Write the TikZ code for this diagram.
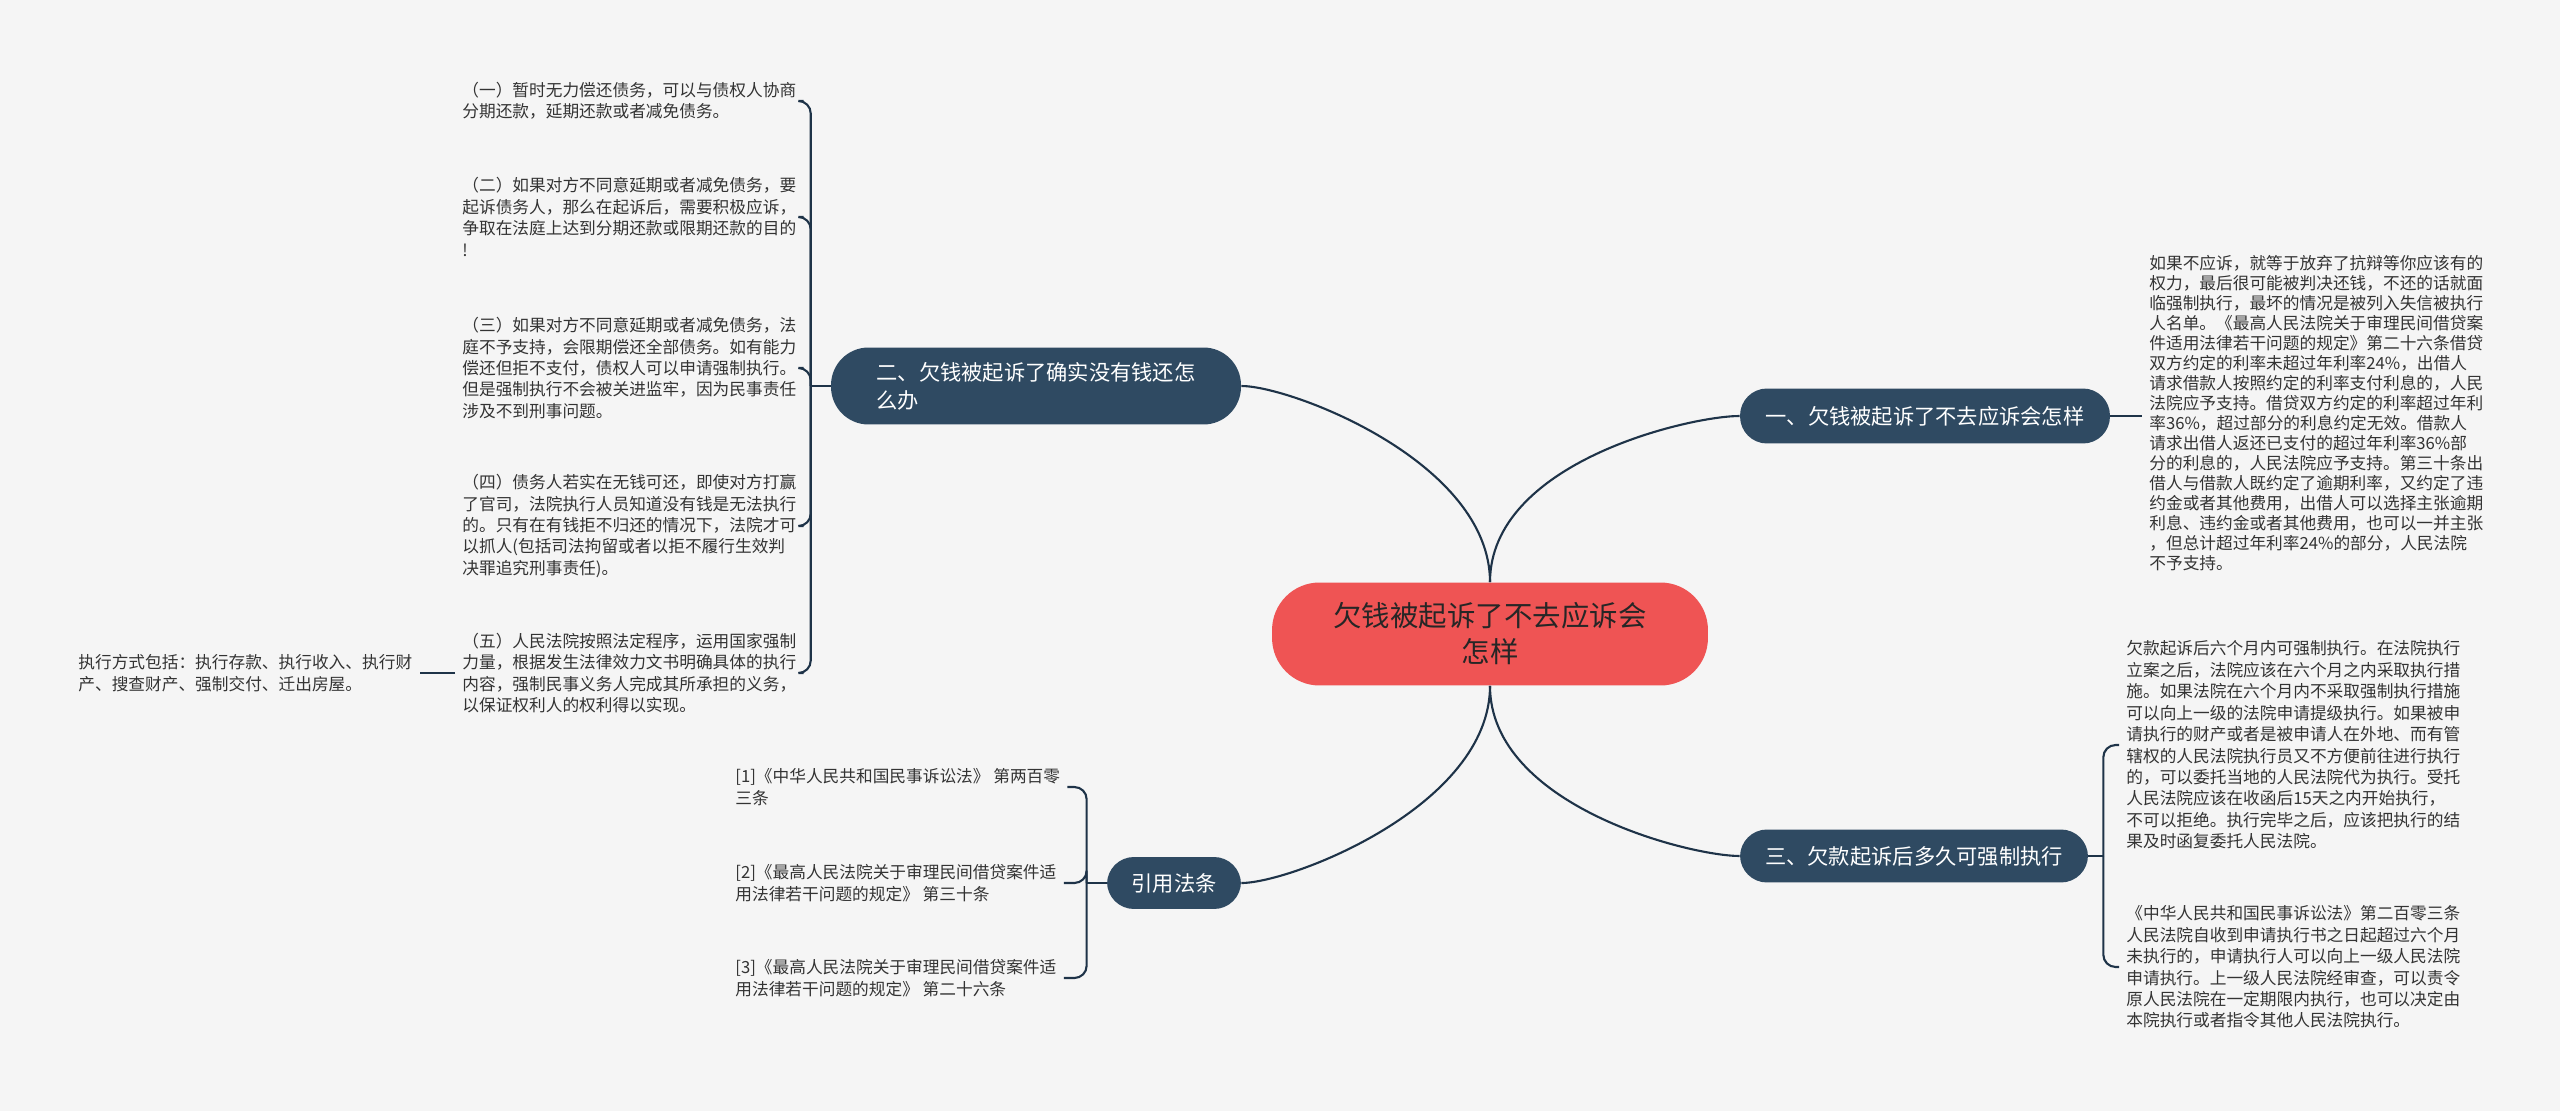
\documentclass[tikz,border=0pt]{standalone}
\usepackage{fontspec}
\newfontfamily\cjk{Noto Sans CJK SC}
\usetikzlibrary{positioning,calc}

\definecolor{bgcol}{HTML}{F5F5F5}
\definecolor{navy}{HTML}{2F4A62}
\definecolor{linecol}{HTML}{1E3348}
\definecolor{rootred}{HTML}{EF5454}
\definecolor{leaftext}{HTML}{333333}

\begin{document}
\begin{tikzpicture}[
    x=0.02cm, y=-0.02cm,
    root/.style={fill=rootred, rounded corners=0.95cm, minimum width=8.72cm, minimum height=2.06cm, align=center, text=black!85, font={\cjk\fontsize{16.2}{20.5}\selectfont}},
    topic/.style={fill=navy, rounded corners=0.54cm, align=left, text=white, font={\cjk\fontsize{12.1}{15.8}\selectfont}},
    leaf/.style={anchor=west, align=left, inner sep=4pt, text=leaftext, font={\cjk\fontsize{9.5}{12.2}\selectfont}},
    link/.style={draw=linecol, line width=1.2pt},
    bracket/.style={link, rounded corners=7pt}
]

    % 0. Canvas
    \useasboundingbox (0,0) rectangle (2560,1111);
    \fill[bgcol] (0,0) rectangle (2560,1111);

    % 1. Root (centre)
    \node[root] (root) at (1490, 634) {欠钱被起诉了不去应诉会\\怎样};

    % 2. Topics
    \node[topic, rounded corners=0.75cm, minimum width=8.2cm, minimum height=1.54cm] (owe) at (1036, 386) {二、欠钱被起诉了确实没有钱还怎\\么办};
    \node[topic, minimum width=7.4cm, minimum height=1.1cm] (skip) at (1925, 416) {一、欠钱被起诉了不去应诉会怎样};
    \node[topic, minimum width=6.96cm, minimum height=1.06cm] (force) at (1914, 856) {三、欠款起诉后多久可强制执行};
    \node[topic, minimum width=2.68cm, minimum height=1.04cm] (law) at (1174, 883) {引用法条};

    % 3. Leaves of "二" (left)
    \node[leaf] (owe1) at (455, 101) {（一）暂时无力偿还债务，可以与债权人协商\\分期还款，延期还款或者减免债务。};
    \node[leaf] (owe2) at (455, 217) {（二）如果对方不同意延期或者减免债务，要\\起诉债务人，那么在起诉后，需要积极应诉，\\争取在法庭上达到分期还款或限期还款的目的\\!};
    \node[leaf] (owe3) at (455, 368) {（三）如果对方不同意延期或者减免债务，法\\庭不予支持，会限期偿还全部债务。如有能力\\偿还但拒不支付，债权人可以申请强制执行。\\但是强制执行不会被关进监牢，因为民事责任\\涉及不到刑事问题。};
    \node[leaf] (owe4) at (455, 526) {（四）债务人若实在无钱可还，即使对方打赢\\了官司，法院执行人员知道没有钱是无法执行\\的。只有在有钱拒不归还的情况下，法院才可\\以抓人(包括司法拘留或者以拒不履行生效判\\决罪追究刑事责任)。};
    \node[leaf] (owe5) at (455, 673) {（五）人民法院按照法定程序，运用国家强制\\力量，根据发生法律效力文书明确具体的执行\\内容，强制民事义务人完成其所承担的义务，\\以保证权利人的权利得以实现。};
    \node[leaf] (owe5a) at (71, 673) {执行方式包括：执行存款、执行收入、执行财\\产、搜查财产、强制交付、迁出房屋。};

    % 4. Leaves of "引用法条"
    \node[leaf] (law1) at (728, 787) {[1]《中华人民共和国民事诉讼法》 第两百零\\三条};
    \node[leaf] (law2) at (728, 883) {[2]《最高人民法院关于审理民间借贷案件适\\用法律若干问题的规定》 第三十条};
    \node[leaf] (law3) at (728, 978) {[3]《最高人民法院关于审理民间借贷案件适\\用法律若干问题的规定》 第二十六条};

    % 5. Leaves on the right
    \node[leaf, font={\cjk\fontsize{9.5}{11.4}\selectfont}] (skip1) at (2142, 413) {如果不应诉，就等于放弃了抗辩等你应该有的\\权力，最后很可能被判决还钱，不还的话就面\\临强制执行，最坏的情况是被列入失信被执行\\人名单。《最高人民法院关于审理民间借贷案\\件适用法律若干问题的规定》第二十六条借贷\\双方约定的利率未超过年利率24\%，出借人\\请求借款人按照约定的利率支付利息的，人民\\法院应予支持。借贷双方约定的利率超过年利\\率36\%，超过部分的利息约定无效。借款人\\请求出借人返还已支付的超过年利率36\%部\\分的利息的，人民法院应予支持。第三十条出\\借人与借款人既约定了逾期利率，又约定了违\\约金或者其他费用，出借人可以选择主张逾期\\利息、违约金或者其他费用，也可以一并主张\\，但总计超过年利率24\%的部分，人民法院\\不予支持。};
    \node[leaf] (force1) at (2119, 745) {欠款起诉后六个月内可强制执行。在法院执行\\立案之后，法院应该在六个月之内采取执行措\\施。如果法院在六个月内不采取强制执行措施\\可以向上一级的法院申请提级执行。如果被申\\请执行的财产或者是被申请人在外地、而有管\\辖权的人民法院执行员又不方便前往进行执行\\的，可以委托当地的人民法院代为执行。受托\\人民法院应该在收函后15天之内开始执行，\\不可以拒绝。执行完毕之后，应该把执行的结\\果及时函复委托人民法院。};
    \node[leaf] (force2) at (2119, 967) {《中华人民共和国民事诉讼法》第二百零三条\\人民法院自收到申请执行书之日起超过六个月\\未执行的，申请执行人可以向上一级人民法院\\申请执行。上一级人民法院经审查，可以责令\\原人民法院在一定期限内执行，也可以决定由\\本院执行或者指令其他人民法院执行。};

    % 6. Root to topics
    \draw[link] (root.north) .. controls +(0,-120) and +(50,0) .. (owe.east);
    \draw[link] (root.north) .. controls +(0,-120) and +(-50,0) .. (skip.west);
    \draw[link] (root.south) .. controls +(0,120) and +(50,0) .. (law.east);
    \draw[link] (root.south) .. controls +(0,120) and +(-50,0) .. (force.west);

    % 7. Topics to leaves
    \draw[link] (owe.west) -- ++(-20,0) coordinate (oweJ);
    \foreach \n in {owe1,owe2,owe3,owe4,owe5}
        \draw[bracket] (oweJ) |- (\n.east);
    \draw[link] (owe5.west) -- (owe5a.east);

    \draw[link] (law.west) -- ++(-20,0) coordinate (lawJ);
    \foreach \n in {law1,law2,law3}
        \draw[bracket] (lawJ) |- (\n.east);

    \draw[link] (skip.east) -- (skip.east -| skip1.west);

    \draw[link] (force.east) -- ++(15,0) coordinate (forceJ);
    \foreach \n in {force1,force2}
        \draw[bracket] (forceJ) |- (\n.west);

\end{tikzpicture}
\end{document}
